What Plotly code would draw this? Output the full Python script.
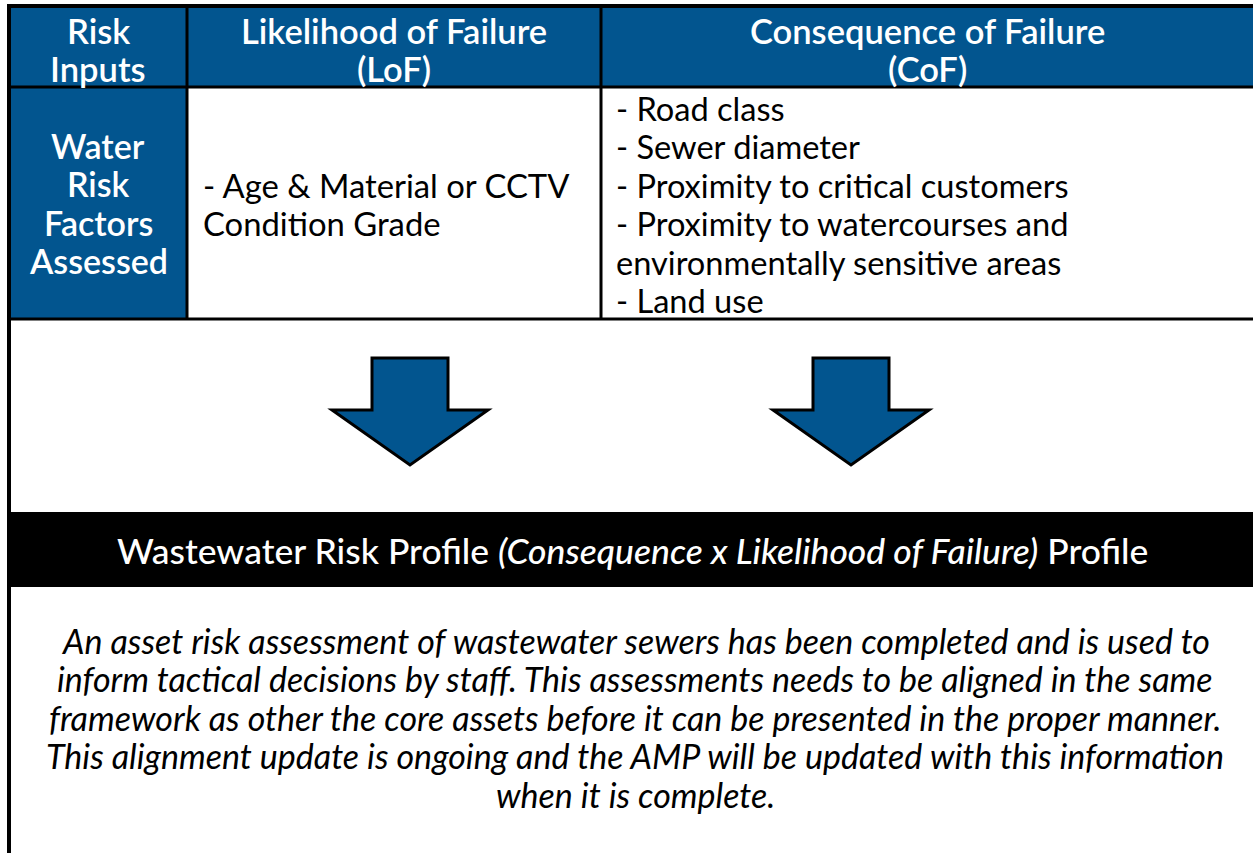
import plotly.graph_objects as go

# ---- content ----
header_labels = [["Risk", "Inputs"],
                 ["Likelihood of Failure", "(LoF)"],
                 ["Consequence of Failure", "(CoF)"]]
row_label = ["Water", "Risk", "Factors", "Assessed"]
lof_items = ["- Age & Material or CCTV", "Condition Grade"]
cof_items = ["- Road class", "- Sewer diameter", "- Proximity to critical customers",
             "- Proximity to watercourses and", "environmentally sensitive areas",
             "- Land use"]
band_text = "Wastewater Risk Profile <i>(Consequence x Likelihood of Failure)</i> Profile"
paragraph = ["An asset risk assessment of wastewater sewers has been completed and is used to",
             "inform tactical decisions by staff. This assessments needs to be aligned in the same",
             "framework as other the core assets before it can be presented in the proper manner.",
             "This alignment update is ongoing and the AMP will be updated with this information",
             "when it is complete."]

# ---- styles / geometry ----
W, H = 1253, 853
BLUE = "#02558F"
FONT = "Lato"
col_edges = [9, 187, 601, 1253]
row_edges = [6, 87, 319]
band = (512, 587)
arrow_cx = [410, 851]
line_h = 38.5

fig = go.Figure()
shapes = []
shapes.append(dict(type="rect", x0=col_edges[0], x1=W + 5, y0=row_edges[0], y1=row_edges[1],
                   fillcolor=BLUE, line=dict(width=0), layer="below"))
shapes.append(dict(type="rect", x0=col_edges[0], x1=col_edges[1], y0=row_edges[1], y1=row_edges[2],
                   fillcolor=BLUE, line=dict(width=0), layer="below"))
shapes.append(dict(type="rect", x0=col_edges[0], x1=W + 5, y0=band[0], y1=band[1],
                   fillcolor="black", line=dict(width=0)))
shapes.append(dict(type="line", x0=col_edges[0], x1=col_edges[0], y0=row_edges[0] - 2, y1=H + 5,
                   line=dict(color="black", width=4)))
shapes.append(dict(type="line", x0=col_edges[0] - 2, x1=W + 5, y0=row_edges[0], y1=row_edges[0],
                   line=dict(color="black", width=4)))
for y in row_edges[1:]:
    shapes.append(dict(type="line", x0=col_edges[0], x1=W + 5, y0=y, y1=y,
                       line=dict(color="black", width=3)))
for x in col_edges[1:3]:
    shapes.append(dict(type="line", x0=x, x1=x, y0=row_edges[0], y1=row_edges[2],
                       line=dict(color="black", width=3)))
for cx in arrow_cx:
    sw, ww, top, sh, tip = 38, 78, 358, 410, 465
    path = (f"M {cx-sw} {top} L {cx+sw} {top} L {cx+sw} {sh} L {cx+ww} {sh} "
            f"L {cx} {tip} L {cx-ww} {sh} L {cx-sw} {sh} Z")
    shapes.append(dict(type="path", path=path, fillcolor=BLUE,
                       line=dict(color="black", width=3)))

ann = []
def txt(t, x, y, size=27, color="black", xanchor="center", weight=None, italic=False):
    f = dict(family=FONT, size=size, color=color)
    if weight:
        f["weight"] = weight
    if italic:
        f["style"] = "italic"
    ann.append(dict(text=t, x=x, y=y, xref="x", yref="y", showarrow=False,
                    xanchor=xanchor, yanchor="middle", font=f))

hdr_y = [30, 68]
col_centers = [(col_edges[i] + col_edges[i + 1]) / 2 for i in range(3)]
for ci, lines in enumerate(header_labels):
    for li, t in enumerate(lines):
        txt(t, col_centers[ci], hdr_y[li], size=34.5, color="white", weight=600)
for li, t in enumerate(row_label):
    txt(t, col_centers[0], 145 + li * line_h, size=34, color="white", weight=600)
for li, t in enumerate(lof_items):
    txt(t, 201, 185 + li * line_h, size=32.8, xanchor="left")
for li, t in enumerate(cof_items):
    txt(t, 614, 108 + li * line_h, size=32.6, xanchor="left")
txt(band_text, 632, 550, size=35.5, color="white", weight=500)
for li, t in enumerate(paragraph):
    txt(t, 635, 640 + li * line_h, size=34, italic=True)

fig.update_layout(width=W, height=H, margin=dict(l=0, r=0, t=0, b=0),
                  paper_bgcolor="white", plot_bgcolor="white",
                  xaxis=dict(range=[0, W], visible=False, fixedrange=True),
                  yaxis=dict(range=[H, 0], visible=False, fixedrange=True),
                  shapes=shapes, annotations=ann, showlegend=False)
fig.write_html("out.html", config={"displayModeBar": False},
               post_script="document.body.style.margin='0';document.body.style.overflow='hidden';")
